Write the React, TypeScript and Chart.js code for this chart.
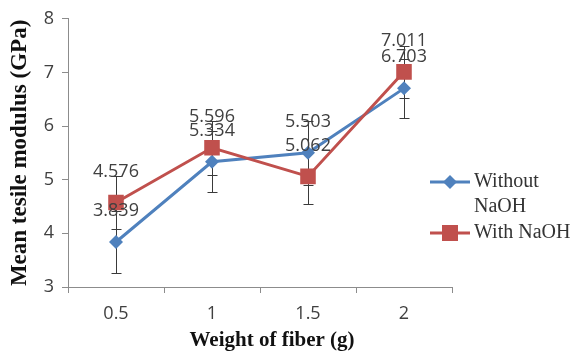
import React, { useEffect, useRef } from "react";
import { Chart, registerables } from "chart.js";

Chart.register(...registerables);

const categories = ["0.5", "1", "1.5", "2"];
const withoutNaOH = [3.839, 5.334, 5.503, 6.703];
const withNaOH = [4.576, 5.596, 5.062, 7.011];
const withoutNaOHErr = [0.58, 0.57, 0.6, 0.55];
const withNaOHErr = [0.5, 0.5, 0.51, 0.48];
const seriesNames = ["Without NaOH", "With NaOH"];
const legendLines = [["Without", "NaOH"], ["With NaOH"]];
const yMin = 3;
const yMax = 8;
const yStep = 1;
const xTitle = "Weight of fiber (g)";
const yTitle = "Mean tesile modulus (GPa)";

const BLUE = "#4F81BD";
const RED = "#C0504D";
const TEXT = "#404040";
const AXIS = "#8c8c8c";
const SANS = "'Open Sans', 'DejaVu Sans', sans-serif";
const SERIF = "'Liberation Serif', 'DejaVu Serif', serif";

const errors = [withoutNaOHErr, withNaOHErr];

const errorBarPlugin = {
  id: "errorBars",
  beforeDatasetsDraw(chart: any) {
    const ctx = chart.ctx;
    const yScale = chart.scales.y;
    ctx.save();
    ctx.strokeStyle = "#3a3a3a";
    ctx.lineWidth = 1;
    chart.data.datasets.forEach((ds: any, di: number) => {
      const meta = chart.getDatasetMeta(di);
      meta.data.forEach((el: any, i: number) => {
        const v = ds.data[i];
        const e = errors[di][i];
        const x = Math.round(el.x) + 0.5;
        const yHi = Math.round(yScale.getPixelForValue(v + e)) + 0.5;
        const yLo = Math.round(yScale.getPixelForValue(v - e)) + 0.5;
        ctx.beginPath();
        ctx.moveTo(x, yHi);
        ctx.lineTo(x, yLo);
        ctx.moveTo(x - 5, yHi);
        ctx.lineTo(x + 5, yHi);
        ctx.moveTo(x - 5, yLo);
        ctx.lineTo(x + 5, yLo);
        ctx.stroke();
      });
    });
    ctx.restore();
  },
};

const dataLabelPlugin = {
  id: "dataLabels",
  afterDatasetsDraw(chart: any) {
    const ctx = chart.ctx;
    ctx.save();
    ctx.font = `18px ${SANS}`;
    ctx.fillStyle = TEXT;
    ctx.textAlign = "center";
    ctx.textBaseline = "middle";
    chart.data.datasets.forEach((ds: any, di: number) => {
      const meta = chart.getDatasetMeta(di);
      meta.data.forEach((el: any, i: number) => {
        ctx.fillText(Number(ds.data[i]).toFixed(3), el.x, el.y - 31);
      });
    });
    ctx.restore();
  },
};

const extrasPlugin = {
  id: "extras",
  afterDraw(chart: any) {
    const ctx = chart.ctx;
    const area = chart.chartArea;
    ctx.save();
    // x-axis title
    ctx.font = `bold 21px ${SERIF}`;
    ctx.fillStyle = "#111";
    ctx.textAlign = "center";
    ctx.textBaseline = "middle";
    ctx.fillText(xTitle, (area.left + area.right) / 2 + 12, 341);

    // legend
    const items = [
      { color: BLUE, style: "diamond", lines: legendLines[0], y: 182 },
      { color: RED, style: "square", lines: legendLines[1], y: 233 },
    ];
    items.forEach((it) => {
      ctx.strokeStyle = it.color;
      ctx.lineWidth = 3;
      ctx.beginPath();
      ctx.moveTo(430, it.y);
      ctx.lineTo(470, it.y);
      ctx.stroke();
      ctx.fillStyle = it.color;
      ctx.beginPath();
      if (it.style === "diamond") {
        const r = 7;
        ctx.moveTo(450 - r, it.y);
        ctx.lineTo(450, it.y - r);
        ctx.lineTo(450 + r, it.y);
        ctx.lineTo(450, it.y + r);
        ctx.closePath();
      } else {
        ctx.rect(450 - 8, it.y - 8, 16, 16);
      }
      ctx.fill();
      ctx.font = `20px ${SERIF}`;
      ctx.fillStyle = "#333";
      ctx.textAlign = "left";
      ctx.textBaseline = "middle";
      it.lines.forEach((t, k) => {
        ctx.fillText(t, 474, it.y + k * 25);
      });
    });
    ctx.restore();
  },
};

export default function App() {
  const ref = useRef<HTMLCanvasElement | null>(null);

  useEffect(() => {
    if (!ref.current) return;
    const chart = new Chart(ref.current, {
      type: "line",
      data: {
        labels: categories,
        datasets: [
          {
            label: seriesNames[0],
            data: withoutNaOH,
            borderColor: BLUE,
            backgroundColor: BLUE,
            borderWidth: 3,
            pointStyle: "rectRot",
            pointRadius: 7,
            pointBorderWidth: 0,
            pointBackgroundColor: BLUE,
            tension: 0,
            order: 1,
          },
          {
            label: seriesNames[1],
            data: withNaOH,
            borderColor: RED,
            backgroundColor: RED,
            borderWidth: 3,
            pointStyle: "rect",
            pointRadius: 11,
            pointBorderWidth: 0,
            pointBackgroundColor: RED,
            tension: 0,
            order: 0,
          },
        ],
      },
      options: {
        responsive: true,
        maintainAspectRatio: false,
        animation: false,
        layout: { padding: { left: 0, top: 17, right: 128, bottom: 0 } },
        plugins: {
          legend: { display: false },
          tooltip: { enabled: false },
        },
        scales: {
          x: {
            type: "category",
            offset: true,
            afterFit: (s: any) => {
              s.height = 68;
            },
            grid: {
              offset: true,
              drawOnChartArea: false,
              drawTicks: true,
              tickLength: 6,
              color: AXIS,
            },
            border: { display: true, color: AXIS, width: 1 },
            ticks: {
              font: { family: SANS, size: 18 },
              color: TEXT,
              padding: 10,
            },
          },
          y: {
            min: yMin,
            max: yMax,
            afterFit: (s: any) => {
              s.width = 68;
            },
            grid: {
              drawOnChartArea: false,
              drawTicks: true,
              tickLength: 6,
              color: AXIS,
            },
            border: { display: true, color: AXIS, width: 1 },
            ticks: {
              stepSize: yStep,
              font: { family: SANS, size: 18 },
              color: TEXT,
              padding: 8,
            },
            title: {
              display: true,
              text: yTitle,
              font: { family: SERIF, size: 23, weight: "bold" },
              color: "#111",
              padding: { top: 6, bottom: 0 },
            },
          },
        },
      },
      plugins: [errorBarPlugin, dataLabelPlugin, extrasPlugin],
    } as any);
    return () => chart.destroy();
  }, []);

  return (
    <div style={{ position: "absolute", left: 0, top: 0, width: 580, height: 355, background: "#fff" }}>
      <canvas ref={ref} />
    </div>
  );
}
